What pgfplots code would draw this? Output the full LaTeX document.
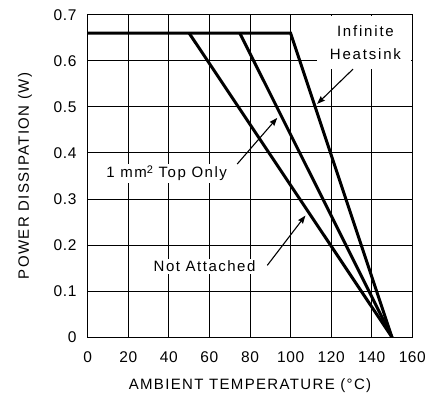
\documentclass[border=0pt]{standalone}
\usepackage{fontspec}
\setmainfont{Liberation Sans}
\usepackage{pgfplots}
\pgfplotsset{compat=1.18}
\usetikzlibrary{arrows.meta}
\begin{document}
\fontsize{15bp}{18bp}\selectfont
\begin{tikzpicture}
\begin{axis}[name=ax, at={(0,0)}, anchor=south west,
  scale only axis, width=324.6bp, height=322.6bp,
  xmin=0, xmax=160, ymin=0, ymax=0.7,
  xtick={0,20,40,60,80,100,120,140,160},
  ytick={0,0.1,0.2,0.3,0.4,0.5,0.6,0.7},
  yticklabels={0,0.1,0.2,0.3,0.4,0.5,0.6,0.7},
  grid=major, major grid style={black, line width=1bp},
  axis line style={black, line width=1.5bp},
  major tick length=0pt,
  /pgf/number format/assume math mode=true,
  tick label style={font=\fontsize{15.5bp}{18bp}\selectfont\addfontfeature{LetterSpace=4}},
  xticklabel style={yshift=-9bp},
  yticklabel style={xshift=-6bp},
  every axis x label/.style={at={(axis description cs:0.5,-0.1488)}, anchor=center},
  every axis y label/.style={at={(axis description cs:-0.1932,0.5)}, anchor=center, rotate=90},
  label style={font=\fontsize{15bp}{18bp}\selectfont\addfontfeature{LetterSpace=9}},
  xlabel={AMBIENT TEMPERATURE (°C)},
  ylabel={POWER DISSIPATION (W)},
]
\fill[white] (axis cs:113,0.583) rectangle (axis cs:159.3,0.697);
\node[fill=white, inner sep=2bp] at (axis cs:38.9,0.355) {\addfontfeature{LetterSpace=10}1 mm\raisebox{0.5ex}{\fontsize{11bp}{12bp}\selectfont 2} Top Only};
\node[fill=white, inner sep=2bp] at (axis cs:57.6,0.154) {\addfontfeature{LetterSpace=10}Not Attached};
\node[align=center, font=\fontsize{15bp}{22.6bp}\selectfont\addfontfeature{LetterSpace=12}] at (axis cs:136.9,0.64) {Infinite\\Heatsink};
\addplot[black, line width=3bp, line join=miter] coordinates {(0,0.66) (100,0.66) (150,0)};
\addplot[black, line width=3bp] coordinates {(75,0.66) (150,0)};
\addplot[black, line width=3bp] coordinates {(50,0.66) (150,0)};
\draw[line width=1.1bp, -{Stealth[length=8bp,width=6bp,inset=1bp]}] (axis cs:130.8,0.582) -- (axis cs:113.1,0.5065);
\draw[line width=1.1bp, -{Stealth[length=8bp,width=6bp,inset=1bp]}] (axis cs:73.7,0.376) -- (axis cs:93.4,0.476);
\draw[line width=1.1bp, -{Stealth[length=8bp,width=6bp,inset=1bp]}] (axis cs:88.5,0.156) -- (axis cs:107.3,0.264);
\end{axis}
\path ([xshift=-87.7bp,yshift=-70.7bp]ax.south west) rectangle ([xshift=19.7bp,yshift=14.7bp]ax.north east);
\end{tikzpicture}
\end{document}
